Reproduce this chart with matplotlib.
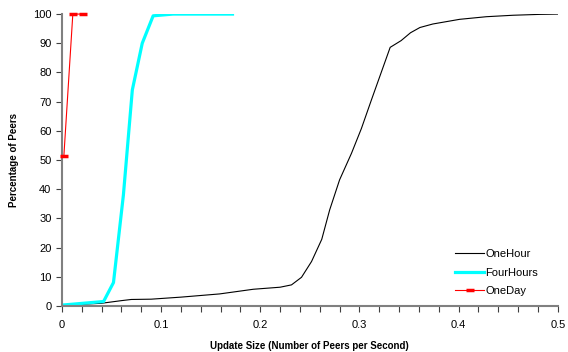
import matplotlib
matplotlib.use("Agg")
import matplotlib.pyplot as plt
from matplotlib.ticker import MultipleLocator

plt.rcParams['font.family'] = ['Liberation Sans', 'DejaVu Sans']

# OneHour
hour_x = [0.0, 0.04, 0.06, 0.07, 0.09, 0.12, 0.159, 0.193, 0.22, 0.2315, 0.2416, 0.2517,
          0.262, 0.27, 0.28, 0.292, 0.302, 0.312, 0.331, 0.342, 0.3515, 0.361,
          0.374, 0.401, 0.428, 0.455, 0.482, 0.5]
hour_y = [0.2, 0.9, 1.8, 2.2, 2.3, 3.0, 4.1, 5.7, 6.4, 7.2, 9.8, 15.2,
          22.8, 32.9, 43.2, 52.3, 60.8, 70.5, 88.6, 90.9, 93.6, 95.4,
          96.6, 98.2, 99.1, 99.6, 99.9, 100.0]

# FourHours
four_x = [0.001, 0.042, 0.052, 0.062, 0.071, 0.081, 0.092, 0.112, 0.172]
four_y = [0.3, 1.5, 8.0, 38.0, 74.0, 90.0, 99.4, 100.0, 100.0]

# OneDay
day_x = [0.002, 0.011, 0.021]
day_y = [51.5, 100.0, 100.0]

x_ticks = [0, 0.1, 0.2, 0.3, 0.4, 0.5]
x_labels = ['0', '0.1', '0.2', '0.3', '0.4', '0.5']

fig = plt.figure(figsize=(5.68, 3.52), dpi=100)
ax = fig.add_axes([0.109, 0.131, 0.873, 0.829])

ax.plot(hour_x, hour_y, color='black', lw=0.8, label='OneHour')
ax.plot(four_x, four_y, color='#00ffff', lw=2.3, label='FourHours')
ax.plot(day_x, day_y, color='red', lw=0.8, marker='_', ms=6, mew=2.5, label='OneDay',
        clip_on=False, zorder=4)

ax.set_xticks(x_ticks, x_labels)
ax.xaxis.set_minor_locator(MultipleLocator(0.02))
ax.yaxis.set_major_locator(MultipleLocator(10))
ax.set_xlim(0, 0.5)
ax.set_ylim(0, 100)

for s in ['top', 'right']:
    ax.spines[s].set_visible(False)
for s in ['left', 'bottom']:
    ax.spines[s].set_color('#808080')
    ax.spines[s].set_linewidth(1.5)

ax.tick_params(axis='both', which='both', color='#404040', width=0.8, length=4,
               labelsize=8, labelcolor='black')
ax.tick_params(axis='x', which='major', pad=6)

ax.set_xlabel('Update Size (Number of Peers per Second)', fontsize=7, fontweight='bold', labelpad=8)
ax.set_ylabel('Percentage of Peers', fontsize=7, fontweight='bold', labelpad=10)

ax.legend(loc='lower right', bbox_to_anchor=(0.98, 0.0), frameon=False, fontsize=8,
          handlelength=2.6, handletextpad=0.1, labelspacing=0.75)

fig.savefig('out.png', dpi=100)
